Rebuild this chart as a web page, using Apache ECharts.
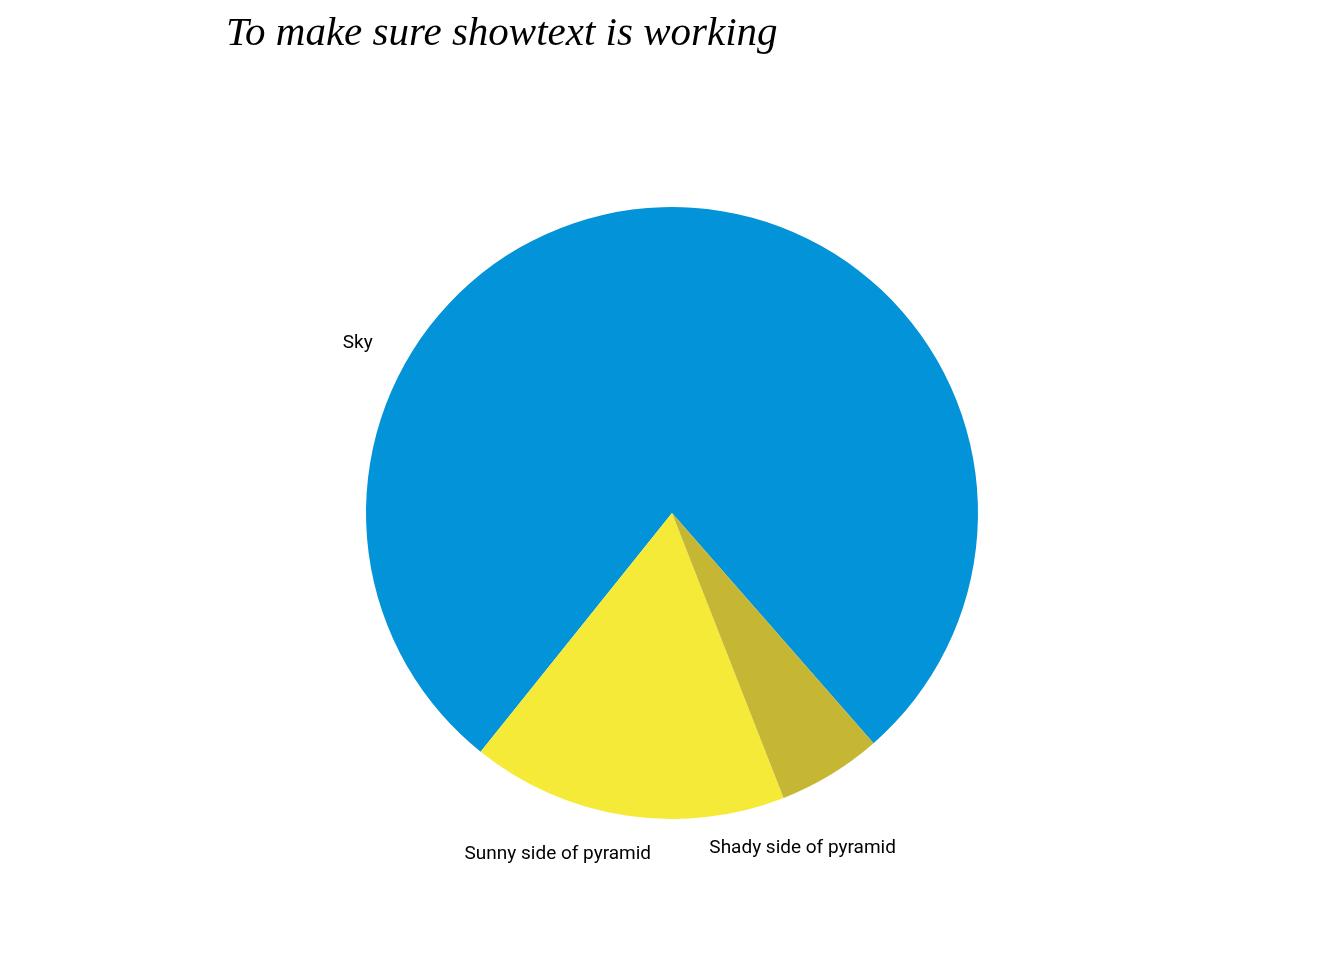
<!DOCTYPE html>
<html>
<head>
<meta charset="utf-8">
<script src="https://cdn.jsdelivr.net/npm/echarts@6/dist/echarts.min.js"></script>
<style>
html,body{margin:0;padding:0;background:#fff;}
#chart{width:1344px;height:960px;}
</style>
</head>
<body>
<div id="chart"></div>
<script>
const categories = ["Sky", "Sunny side of pyramid", "Shady side of pyramid"];
const values = [77.8, 16.7, 5.5];
const colors = ["#0393D8", "#F6EA38", "#C5B634"];
const titleText = "To make sure showtext is working";

const cx = 672, cy = 513, r = 306, labelR = 358;
// label directions (degrees, counterclockwise from 3 o'clock)
const labelAngles = [151.4, 251.4, 291.4];

const chart = echarts.init(document.getElementById('chart'), null, {renderer: 'canvas'});
chart.setOption({
  animation: false,
  backgroundColor: '#ffffff',
  title: {
    text: titleText,
    left: 221,
    top: 9,
    textStyle: {
      fontFamily: 'Liberation Serif',
      fontStyle: 'italic',
      fontWeight: 'normal',
      fontSize: 41,
      color: '#000'
    }
  },
  series: [{
    type: 'pie',
    center: [cx, cy],
    radius: [0, r],
    startAngle: 311.2,
    clockwise: false,
    avoidLabelOverlap: false,
    itemStyle: {borderWidth: 0},
    label: {
      show: true,
      position: 'outside',
      fontFamily: 'Roboto',
      fontSize: 19,
      color: '#000',
      formatter: '{b}'
    },
    labelLine: {show: false},
    labelLayout: function (p) {
      const a = labelAngles[p.dataIndex] * Math.PI / 180;
      return {
        x: cx + labelR * Math.cos(a),
        y: cy - labelR * Math.sin(a) + 2,
        align: 'center',
        verticalAlign: 'middle'
      };
    },
    emphasis: {disabled: true},
    data: categories.map((c, i) => ({name: c, value: values[i], itemStyle: {color: colors[i]}}))
  }]
});
</script>
</body>
</html>
